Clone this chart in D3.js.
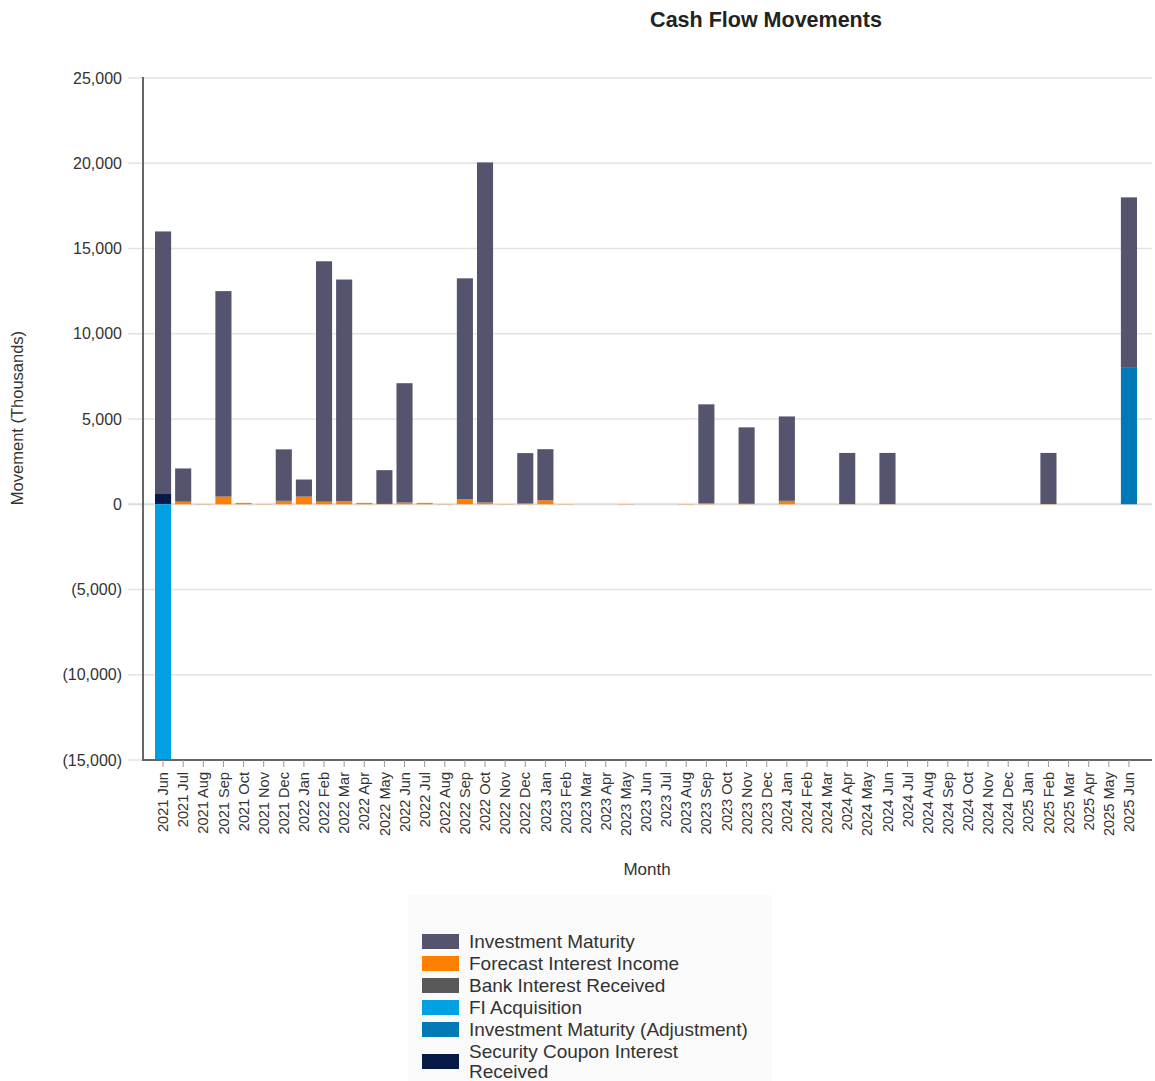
<!DOCTYPE html>
<html>
<head>
<meta charset="utf-8">
<script src="https://cdn.jsdelivr.net/npm/d3@7"></script>
<style>
  body { margin: 0; background: #fff; font-family: "Liberation Sans", Arial, sans-serif; }
</style>
</head>
<body>
<div id="chart"></div>
<script>
// Cash flow movements - stacked monthly bars

const months = [
  '2021 Jun','2021 Jul','2021 Aug','2021 Sep','2021 Oct','2021 Nov','2021 Dec',
  '2022 Jan','2022 Feb','2022 Mar','2022 Apr','2022 May','2022 Jun','2022 Jul','2022 Aug','2022 Sep','2022 Oct','2022 Nov','2022 Dec',
  '2023 Jan','2023 Feb','2023 Mar','2023 Apr','2023 May','2023 Jun','2023 Jul','2023 Aug','2023 Sep','2023 Oct','2023 Nov','2023 Dec',
  '2024 Jan','2024 Feb','2024 Mar','2024 Apr','2024 May','2024 Jun','2024 Jul','2024 Aug','2024 Sep','2024 Oct','2024 Nov','2024 Dec',
  '2025 Jan','2025 Feb','2025 Mar','2025 Apr','2025 May','2025 Jun'
];

const seriesNames = [
  'Investment Maturity',
  'Forecast Interest Income',
  'Bank Interest Received',
  'FI Acquisition',
  'Investment Maturity (Adjustment)',
  'Security Coupon Interest Received'
];

const seriesColors = ['#55546f', '#ff8000', '#595959', '#00a0e3', '#0079b6', '#061a48'];

// values in thousands, one per month
const investmentMaturity = [
  15400, 1950, 0, 12050, 0, 0, 3020,
  1000, 14100, 13000, 0, 1980, 7000, 0, 0, 12950, 19950, 0, 2950,
  3000, 0, 0, 0, 0, 0, 0, 0, 5800, 0, 4480, 0,
  4950, 0, 0, 3000, 0, 3000, 0, 0, 0, 0, 0, 0,
  0, 3000, 0, 0, 0, 10000
];
const forecastInterest = [
  0, 150, 15, 450, 80, 15, 200,
  450, 150, 180, 80, 20, 100, 80, 15, 300, 100, 15, 50,
  230, 15, 0, 0, 15, 0, 0, 15, 60, 0, 30, 0,
  200, 0, 0, 10, 0, 10, 0, 0, 0, 0, 0, 0,
  0, 10, 0, 0, 0, 0
];
const bankInterest = months.map(() => 0);
const fiAcquisition = [
  -15000, 0, 0, 0, 0, 0, 0,
  0, 0, 0, 0, 0, 0, 0, 0, 0, 0, 0, 0,
  0, 0, 0, 0, 0, 0, 0, 0, 0, 0, 0, 0,
  0, 0, 0, 0, 0, 0, 0, 0, 0, 0, 0, 0,
  0, 0, 0, 0, 0, 0
];
const maturityAdjustment = [
  0, 0, 0, 0, 0, 0, 0,
  0, 0, 0, 0, 0, 0, 0, 0, 0, 0, 0, 0,
  0, 0, 0, 0, 0, 0, 0, 0, 0, 0, 0, 0,
  0, 0, 0, 0, 0, 0, 0, 0, 0, 0, 0, 0,
  0, 0, 0, 0, 0, 8000
];
const couponInterest = [
  600, 0, 0, 0, 0, 0, 0,
  0, 0, 0, 0, 0, 0, 0, 0, 0, 0, 0, 0,
  0, 0, 0, 0, 0, 0, 0, 0, 0, 0, 0, 0,
  0, 0, 0, 0, 0, 0, 0, 0, 0, 0, 0, 0,
  0, 0, 0, 0, 0, 0
];

const yTicks = [-15000, -10000, -5000, 0, 5000, 10000, 15000, 20000, 25000];

// stacking order bottom-up (positive side): coupon, adjustment, forecast, IM
const stackOrder = [5, 4, 3, 2, 1, 0];
const seriesValues = [investmentMaturity, forecastInterest, bankInterest, fiAcquisition, maturityAdjustment, couponInterest];

const rows = months.map((m, i) => {
  const r = { month: m };
  seriesNames.forEach((s, k) => { r[s] = seriesValues[k][i]; });
  return r;
});

const W = 1155, H = 1081;
const svg = d3.select('#chart').append('svg').attr('width', W).attr('height', H);

const axisX = 143, plotRight = 1152;
const x = d3.scaleBand().domain(months).range([153, 1139]).paddingInner(0.2).paddingOuter(0.1);
const y = d3.scaleLinear().domain([-15000, 25000]).range([760, 78]);

// gridlines
svg.append('g').selectAll('line').data(yTicks).enter().append('line')
  .attr('x1', 128).attr('x2', plotRight)
  .attr('y1', d => y(d)).attr('y2', d => y(d))
  .attr('stroke', d => d === 0 ? '#dcdcdc' : '#e3e3e3').attr('stroke-width', d => d === 0 ? 2 : 1.5);

// y tick labels
const fmt = d3.format(',');
svg.append('g').selectAll('text').data(yTicks).enter().append('text')
  .attr('x', 122).attr('y', d => y(d)).attr('dy', '0.35em')
  .attr('text-anchor', 'end').attr('font-size', 16).attr('fill', '#333')
  .text(d => d < 0 ? `(${fmt(-d)})` : fmt(d));

// stacked bars
const stack = d3.stack()
  .keys(stackOrder.map(k => seriesNames[k]))
  .offset(d3.stackOffsetDiverging);
const layers = stack(rows);

svg.append('g').selectAll('g').data(layers).enter().append('g')
  .attr('fill', d => seriesColors[seriesNames.indexOf(d.key)])
  .selectAll('rect').data(d => d).enter().append('rect')
  .attr('x', d => x(d.data.month))
  .attr('width', x.bandwidth())
  .attr('y', d => y(Math.max(d[0], d[1])))
  .attr('height', d => Math.abs(y(d[0]) - y(d[1])));

// axis lines
svg.append('line').attr('x1', axisX).attr('x2', axisX).attr('y1', 77).attr('y2', 761)
  .attr('stroke', '#666').attr('stroke-width', 2);
svg.append('line').attr('x1', axisX).attr('x2', plotRight).attr('y1', 760).attr('y2', 760)
  .attr('stroke', '#666').attr('stroke-width', 2);

// x ticks + labels
const xt = svg.append('g').selectAll('g').data(months).enter().append('g')
  .attr('transform', d => `translate(${x(d) + x.bandwidth() / 2},760)`);
xt.append('line').attr('y1', 0).attr('y2', 7).attr('stroke', '#999');
xt.append('text')
  .attr('transform', 'rotate(-90)')
  .attr('x', -12).attr('y', 0).attr('dy', '0.35em')
  .attr('text-anchor', 'end').attr('font-size', 14.6).attr('fill', '#333')
  .text(d => d);

// titles
svg.append('text').attr('x', 766).attr('y', 27).attr('text-anchor', 'middle')
  .attr('font-size', 21.5).attr('font-weight', 'bold').attr('fill', '#222')
  .text('Cash Flow Movements');
svg.append('text').attr('transform', 'translate(23,418) rotate(-90)')
  .attr('text-anchor', 'middle').attr('font-size', 16.5).attr('fill', '#333')
  .text('Movement (Thousands)');
svg.append('text').attr('x', 647).attr('y', 875).attr('text-anchor', 'middle')
  .attr('font-size', 17).attr('fill', '#333').text('Month');

// legend
const legend = svg.append('g');
legend.append('rect').attr('x', 408).attr('y', 895).attr('width', 364).attr('height', 186).attr('fill', '#fafafa');
const legendRows = [
  { i: 0, y: 941, lines: ['Investment Maturity'] },
  { i: 1, y: 963, lines: ['Forecast Interest Income'] },
  { i: 2, y: 985, lines: ['Bank Interest Received'] },
  { i: 3, y: 1007, lines: ['FI Acquisition'] },
  { i: 4, y: 1029, lines: ['Investment Maturity (Adjustment)'] },
  { i: 5, y: 1061, lines: ['Security Coupon Interest', 'Received'] }
];
const lg = legend.selectAll('g').data(legendRows).enter().append('g');
lg.append('rect').attr('x', 422).attr('y', d => d.y - 7).attr('width', 37).attr('height', 15)
  .attr('fill', d => seriesColors[d.i]);
lg.append('text').attr('x', 469).attr('font-size', 19).attr('fill', '#333')
  .attr('y', d => d.y - (d.lines.length - 1) * 10)
  .selectAll('tspan').data(d => d.lines).enter().append('tspan')
  .attr('x', 469).attr('dy', (d, k) => k === 0 ? '0.35em' : 20)
  .text(d => d);
</script>
</body>
</html>
